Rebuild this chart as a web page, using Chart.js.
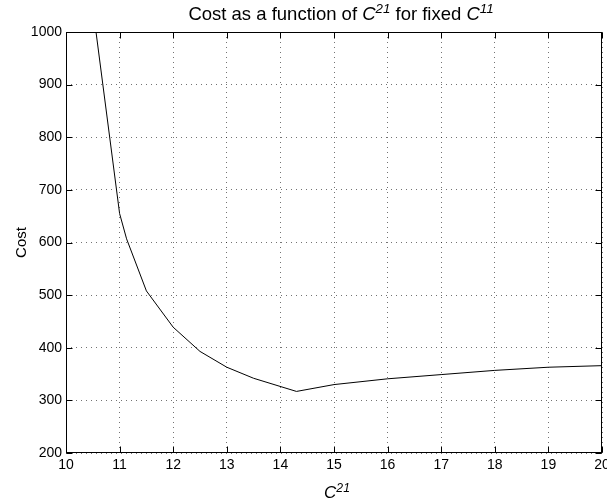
<!DOCTYPE html>
<html>
<head>
<meta charset="utf-8">
<script src="https://cdn.jsdelivr.net/npm/chart.js@4/dist/chart.umd.min.js"></script>
<style>
  html, body { margin: 0; padding: 0; background: #fff; overflow: hidden; }
  #costChart { position: absolute; left: 0; top: 0; }
</style>
</head>
<body>
<canvas id="costChart" width="615" height="502"></canvas>
<script>
// values
var c21 = [10.5, 11, 11.13, 11.5, 12, 12.5, 13, 13.5, 14.3, 15, 16, 17, 18, 19, 20];
var cost = [1047, 655, 607, 508, 439, 393, 363, 342, 317, 330, 341, 349, 357, 363, 366];
var xTicks = [10, 11, 12, 13, 14, 15, 16, 17, 18, 19, 20];
var yTicks = [200, 300, 400, 500, 600, 700, 800, 900, 1000];

var FONT = '"Liberation Sans", Arial, Helvetica, sans-serif';

function drawRich(ctx, parts, cx, baseline, size) {
  var total = 0;
  parts.forEach(function (p) {
    ctx.font = (p.it ? 'italic ' : '') + (p.sup ? size * 0.72 : size) + 'px ' + FONT;
    p.w = ctx.measureText(p.t).width;
    total += p.w;
  });
  var x = cx - total / 2;
  ctx.textAlign = 'left';
  ctx.textBaseline = 'alphabetic';
  parts.forEach(function (p) {
    ctx.font = (p.it ? 'italic ' : '') + (p.sup ? size * 0.72 : size) + 'px ' + FONT;
    ctx.fillText(p.t, x, p.sup ? baseline - size * 0.36 : baseline);
    x += p.w;
  });
}

// MATLAB style box, inward ticks, title and x label
var matlabAxes = {
  id: 'matlabAxes',
  afterDraw: function (chart) {
    var ctx = chart.ctx, a = chart.chartArea;
    var xs = chart.scales.x, ys = chart.scales.y;
    var L = Math.round(a.left) + 0.5, R = Math.round(a.right) - 0.5;
    var T = Math.round(a.top) + 0.5, B = Math.round(a.bottom) - 0.5;
    ctx.save();
    ctx.strokeStyle = '#000';
    ctx.lineWidth = 1;
    ctx.beginPath();
    xTicks.forEach(function (v) {
      var px = Math.round(xs.getPixelForValue(v)) + 0.5;
      ctx.moveTo(px, B); ctx.lineTo(px, B - 6);
      ctx.moveTo(px, T); ctx.lineTo(px, T + 6);
    });
    yTicks.forEach(function (v) {
      var py = Math.round(ys.getPixelForValue(v)) + 0.5;
      ctx.moveTo(L, py); ctx.lineTo(L + 6, py);
      ctx.moveTo(R, py); ctx.lineTo(R - 6, py);
    });
    ctx.stroke();
    ctx.strokeRect(L, T, R - L, B - T);

    ctx.fillStyle = '#000';
    var cx = (a.left + a.right) / 2;
    drawRich(ctx, [
      { t: 'Cost as a function of ' },
      { t: 'C', it: true },
      { t: '21', it: true, sup: true },
      { t: ' for fixed ' },
      { t: 'C', it: true },
      { t: '11', it: true, sup: true }
    ], cx + 7, 20, 18.5);
    drawRich(ctx, [
      { t: 'C', it: true },
      { t: '21', it: true, sup: true }
    ], cx + 3, 498, 17);
    ctx.restore();
  }
};

new Chart(document.getElementById('costChart'), {
  type: 'line',
  data: {
    datasets: [{
      data: c21.map(function (x, i) { return { x: x, y: cost[i] }; }),
      borderColor: '#000',
      borderWidth: 1,
      pointRadius: 0,
      fill: false,
      tension: 0
    }]
  },
  options: {
    responsive: false,
    animation: false,
    layout: { padding: { left: 0, right: 13, top: 32, bottom: 0 } },
    plugins: { legend: { display: false }, tooltip: { enabled: false }, title: { display: false } },
    scales: {
      x: {
        type: 'linear',
        min: 10,
        max: 20,
        afterBuildTicks: function (s) { s.ticks = xTicks.map(function (v) { return { value: v }; }); },
        afterFit: function (s) { s.height = 49; },
        ticks: { color: '#000', padding: 4, font: { family: FONT, size: 14 }, callback: function (v) { return String(v); } },
        grid: { color: 'rgba(0,0,0,0.55)', drawTicks: false },
        border: { display: false, dash: [1, 4] }
      },
      y: {
        min: 200,
        max: 1000,
        afterBuildTicks: function (s) { s.ticks = yTicks.map(function (v) { return { value: v }; }); },
        afterFit: function (s) { s.width = 66; },
        ticks: { color: '#000', padding: 4, font: { family: FONT, size: 14 }, callback: function (v) { return String(v); } },
        grid: { color: 'rgba(0,0,0,0.55)', drawTicks: false },
        border: { display: false, dash: [1, 4] },
        title: { display: true, text: 'Cost', color: '#000', padding: { top: 13, bottom: 0 }, font: { family: FONT, size: 15 } }
      }
    }
  },
  plugins: [matlabAxes]
});
</script>
</body>
</html>
